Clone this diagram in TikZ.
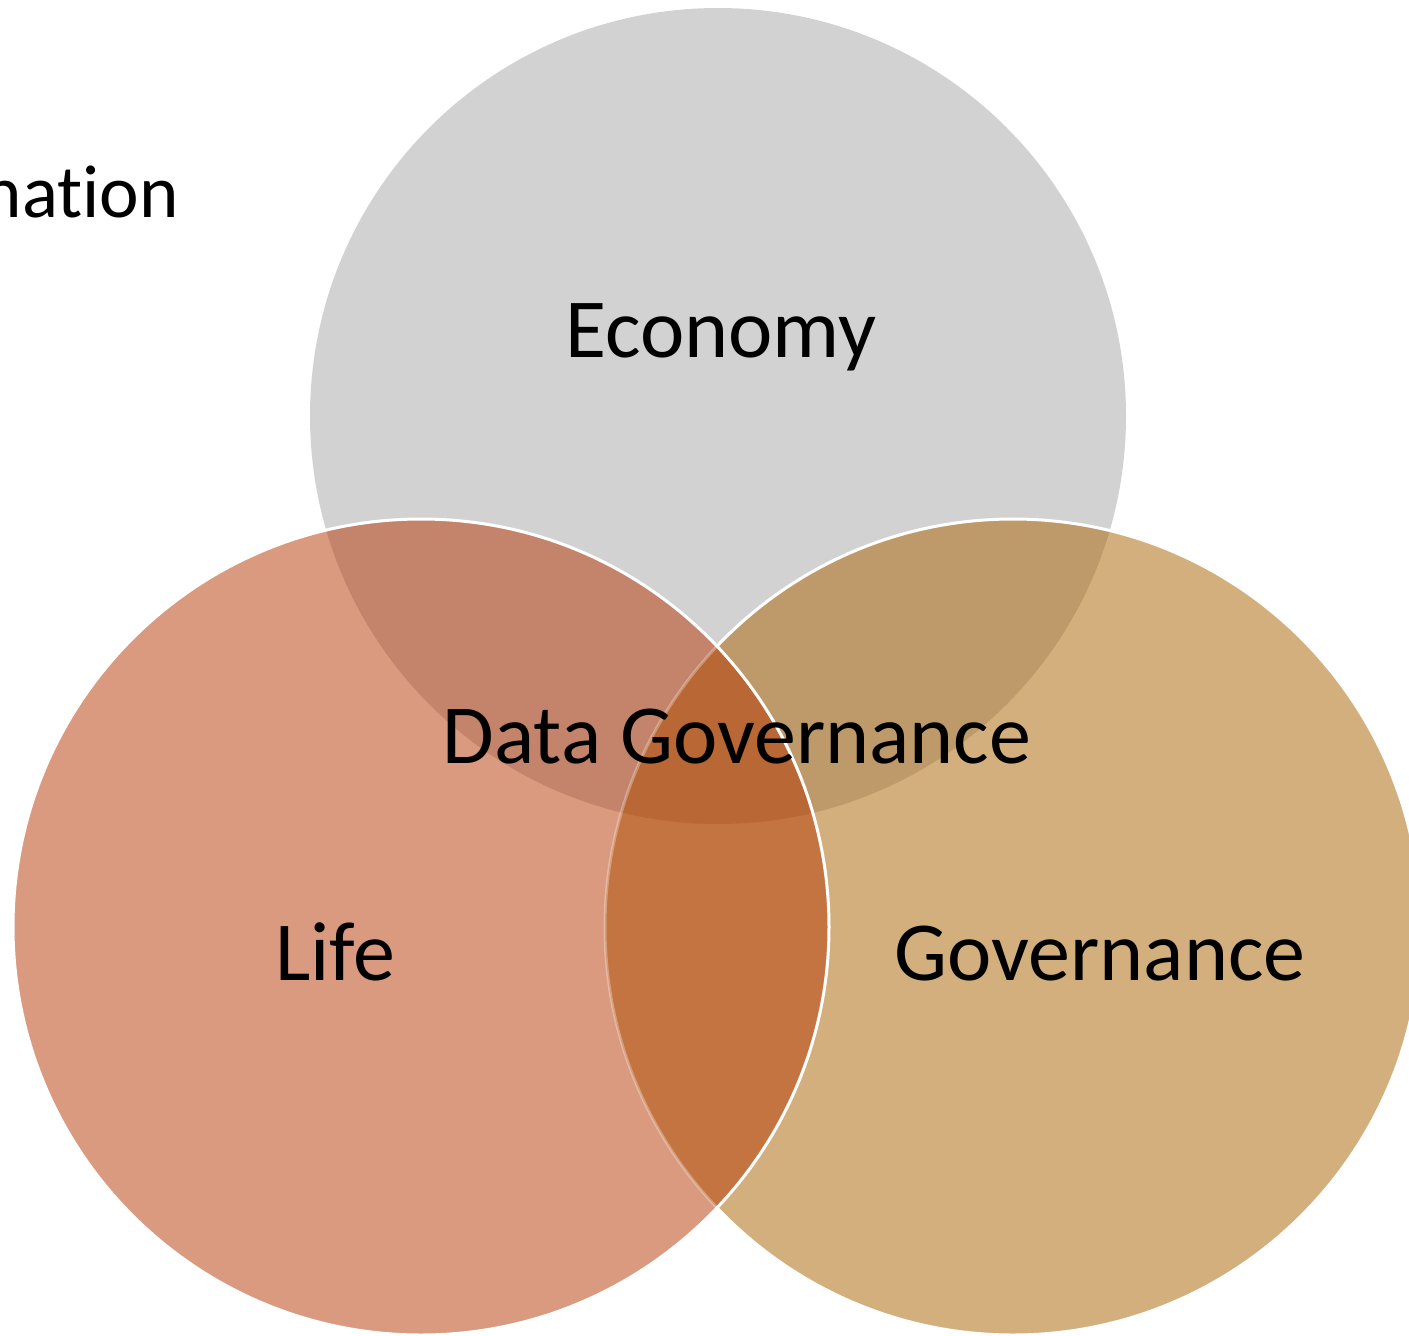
\documentclass[tikz,border=0pt]{standalone}
\usepackage{fontspec}
\setmainfont{Carlito}[Ligatures={NoCommon}]
\definecolor{econc}{HTML}{D2D2D2}
\definecolor{lifec}{HTML}{D99A80}
\definecolor{govc}{HTML}{D4AF7E}
\definecolor{elc}{HTML}{C3846B}
\definecolor{egc}{HTML}{BE9A6A}
\definecolor{lgc}{HTML}{C47441}
\definecolor{elgc}{HTML}{B86735}
\tikzset{
  lbl/.style={anchor=base, inner sep=0pt, font=\fontsize{84}{100}\selectfont, text=black},
  rim/.style={draw=white, line width=3pt},
}
\begin{document}
\begin{tikzpicture}[x=1pt,y=-1pt]
\useasboundingbox (0,0) rectangle (1409,1336);
\coordinate (E) at (718,416);
\coordinate (L) at (421,927);
\coordinate (G) at (1013,927);
\def\R{408}
% Economy
\fill[econc] (E) circle[radius=\R];
% Governance
\fill[govc] (G) circle[radius=\R];
\begin{scope}
  \clip (E) circle[radius=\R];
  \fill[egc] (G) circle[radius=\R];
\end{scope}
\draw[rim] (G) circle[radius=\R];
% Life
\fill[lifec] (L) circle[radius=\R];
\begin{scope}
  \clip (L) circle[radius=\R];
  \fill[elc] (E) circle[radius=\R];
  \fill[lgc] (G) circle[radius=\R];
  \begin{scope}
    \clip (E) circle[radius=\R];
    \fill[elgc] (G) circle[radius=\R];
  \end{scope}
  \draw[draw=white, draw opacity=0.3, line width=3pt] (G) circle[radius=\R];
\end{scope}
\draw[rim] (L) circle[radius=\R];
% labels
\node[lbl] (econ) at (721,357) {Economy};
\node[lbl] (life) at (335,980) {Life};
\node[lbl] (gov) at (1100,980) {Governance};
\node[lbl] (dg) at (737,763) {Data Governance};
\node[lbl, anchor=base east, font=\fontsize{75}{90}\selectfont] (nat) at (179,217) {nation};
\end{tikzpicture}
\end{document}
